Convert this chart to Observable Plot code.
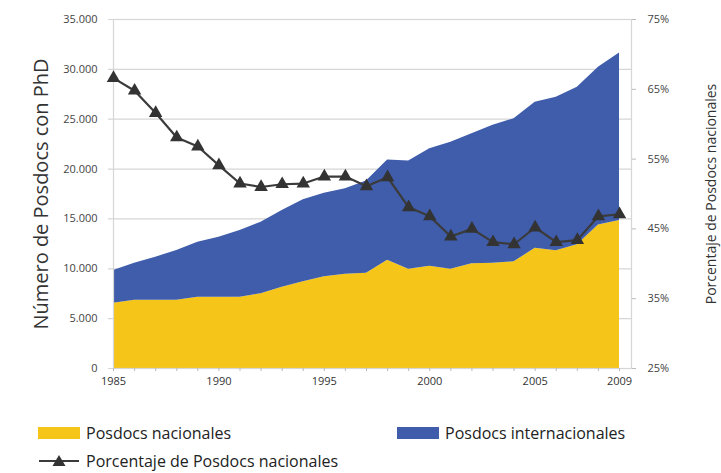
<!DOCTYPE html>
<html><head><meta charset="utf-8">
<script src="https://cdn.jsdelivr.net/npm/d3@7"></script>
<script src="https://cdn.jsdelivr.net/npm/@observablehq/plot@0.6"></script>
<style>
body{margin:0;background:#fff;font-family:"Open Sans",sans-serif;}
#legend{position:relative;height:68px;width:721px;font-family:"Open Sans",sans-serif;font-size:16px;color:#222}
.item{position:absolute;display:flex;align-items:center;white-space:nowrap;line-height:20px}
.sw{width:42px;height:12px;margin-right:6px}
</style></head><body>
<div id="chart"></div>
<div id="legend">
  <div class="item" style="left:38px;top:18px"><div class="sw" style="background:#f6c51a"></div>Posdocs nacionales</div>
  <div class="item" style="left:397px;top:18px"><div class="sw" style="background:#3f5dab"></div>Posdocs internacionales</div>
  <div class="item" style="left:38px;top:46px"><svg width="42" height="14" style="margin-right:6px"><line x1="1" y1="7" x2="41" y2="7" stroke="#3b3b3b" stroke-width="2"/><path d="M21,1 L27.5,12 L14.5,12 Z" fill="#333"/></svg>Porcentaje de Posdocs nacionales</div>
</div>
<script>
const years = [1985,1986,1987,1988,1989,1990,1991,1992,1993,1994,1995,1996,1997,1998,1999,2000,2001,2002,2003,2004,2005,2006,2007,2008,2009];
const nacionales = [6550,6850,6850,6850,7150,7150,7150,7500,8150,8700,9200,9450,9550,10850,9950,10250,9950,10500,10550,10700,12050,11800,12400,14400,14850];
const internacionales = [3280,3710,4310,4980,5520,6020,6690,7170,7700,8220,8380,8570,9250,10050,10850,11800,12750,13050,13850,14350,14650,15400,15800,15800,16800];
const porcentaje = [66.6,64.8,61.6,58.1,56.8,54.1,51.5,51.0,51.4,51.5,52.5,52.5,51.1,52.4,48.1,46.8,43.9,45.0,43.1,42.8,45.2,43.1,43.4,46.8,47.1];
const leftTicks = [0,5000,10000,15000,20000,25000,30000,35000];
const pctTicks = [25,35,45,55,65,75];
const xLabelTicks = [1985,1990,1995,2000,2005,2009];
const seriesNames = ["Posdocs nacionales","Posdocs internacionales"];
const colors = ["#f6c51a","#3f5dab"];

const yMax = 35000, pMin = 25, pMax = 75;
const pctToY = p => (p - pMin) / (pMax - pMin) * yMax;
const yToPct = v => Math.round(v / yMax * (pMax - pMin) + pMin);
const fmt = d3.formatLocale({decimal:",", thousands:".", grouping:[3], currency:["","€"]}).format(",");

const rows = [];
years.forEach((y,i)=>{
  rows.push({year:y, series:seriesNames[0], value:nacionales[i]});
  rows.push({year:y, series:seriesNames[1], value:internacionales[i]});
});
const pctRows = years.map((y,i)=>({year:y, pct:porcentaje[i]}));

const chart = Plot.plot({
  width:721, height:405,
  marginLeft:113, marginRight:90, marginTop:19, marginBottom:37,
  x:{domain:[1985,2009], range:[113,619], label:null},
  y:{domain:[0,yMax], label:null},
  color:{domain:seriesNames, range:colors},
  style:{fontFamily:"Open Sans", fontSize:"11px", color:"#444", background:"#fff"},
  marks:[
    Plot.ruleY(leftTicks,{stroke:"#d6d6d6", strokeWidth:1.2, insetLeft:-5}),
    Plot.areaY(rows,{x:"year", y:"value", fill:"series", order:seriesNames, curve:"linear"}),
    Plot.frame({stroke:"#d6d6d6", strokeWidth:1.2}),
    Plot.line(pctRows,{x:"year", y:d=>pctToY(d.pct), stroke:"#3b3b3b", strokeWidth:2.2}),
    Plot.dot(pctRows,{x:"year", y:d=>pctToY(d.pct), symbol:"triangle", r:5, fill:"#333", stroke:"none"}),
    Plot.axisY({ticks:leftTicks, tickFormat:fmt, tickSize:0, tickPadding:16, fill:"#444"}),
    Plot.axisY({anchor:"right", ticks:pctTicks.map(pctToY), tickFormat:v=>yToPct(v)+"%", tickSize:4, tickPadding:12, stroke:"#bbb", fill:"#444"}),
    Plot.axisX({ticks:years, tickFormat:()=>"", tickSize:3, stroke:"#bbb"}),
    Plot.axisX({ticks:xLabelTicks, tickFormat:d=>String(d), tickSize:0, tickPadding:9, fill:"#333"}),
    Plot.text(["Número de Posdocs con PhD"],{frameAnchor:"left", textAnchor:"middle", rotate:-90, dx:-72, fontSize:20, fill:"#333", fontFamily:"Open Sans"}),
    Plot.text(["Porcentaje de Posdocs nacionales"],{frameAnchor:"right", textAnchor:"middle", rotate:-90, dx:80, fontSize:14, fill:"#333", fontFamily:"Open Sans"})
  ]
});
document.getElementById("chart").appendChild(chart);
</script>
</body></html>
